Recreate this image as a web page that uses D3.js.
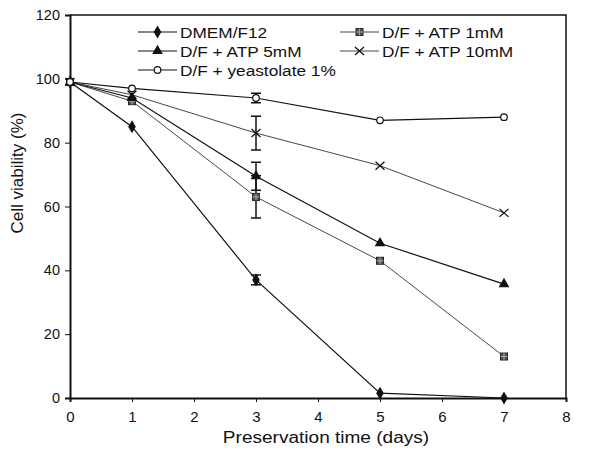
<!DOCTYPE html>
<html>
<head>
<meta charset="utf-8">
<script src="https://cdn.jsdelivr.net/npm/d3@7"></script>
<style>
  body { margin: 0; background: #fff; }
  svg text { font-family: "Liberation Sans", Arial, sans-serif; fill: #111; }
</style>
</head>
<body>
<script>
'use strict';

// preservation days on x axis
const days = [0, 1, 3, 5, 7];
const xTicks = [0, 1, 2, 3, 4, 5, 6, 7, 8];
const yTicks = [0, 20, 40, 60, 80, 100, 120];

// cell viability (%)
const dmem = [99, 85, 37, 1.5, 0];
const atp1 = [99, 93, 63, 43, 13];
const atp5 = [99, 94, 69.5, 48.5, 35.7];
const atp10 = [99, 95, 83, 72.8, 58];
const yeast = [99, 97, 94, 87, 88];

// error bars (only the day 3 ones are visible)
const errDay = 3;
const dmemErr = 1.5, atp1Err = 6.6, atp5Err = 4.4, atp10Err = 5.3, yeastErr = 1.5;

const seriesNames = ["DMEM/F12", "D/F + ATP 1mM", "D/F + ATP 5mM", "D/F + ATP 10mM", "D/F + yeastolate 1%"];

window.onload = function() {
  const svg = d3.select('body').append('svg')
    .attr('width', 589)
    .attr('height', 454);

  const margin = {top: 15, left: 70, right: 23, bottom: 56};
  const width = 589 - margin.left - margin.right,
        height = 454 - margin.top - margin.bottom;

  const x = d3.scaleLinear().domain([0, 8]).range([margin.left, margin.left + width]);
  const y = d3.scaleLinear().domain([0, 120]).range([margin.top + height, margin.top]);

  // frame top + right
  svg.append('path')
    .attr('d', `M${x(0)},${y(120)}H${x(8)}V${y(0)}`)
    .attr('fill', 'none').attr('stroke', '#111').attr('stroke-width', 1.5);

  // axes
  const xAxis = svg.append('g')
    .attr('transform', `translate(0,${y(0)})`)
    .call(d3.axisBottom(x).tickValues(xTicks).tickSize(4).tickPadding(9).tickFormat(d3.format('d')));
  const yAxis = svg.append('g')
    .attr('transform', `translate(${x(0)},0)`)
    .call(d3.axisLeft(y).tickValues(yTicks).tickSize(5).tickPadding(5).tickFormat(d3.format('d')));
  [xAxis, yAxis].forEach(function(g) {
    g.select('.domain').attr('stroke', '#111').attr('stroke-width', 2);
    g.selectAll('.tick line').attr('stroke', '#111');
    g.selectAll('text').attr('fill', '#111');
  });
  xAxis.selectAll('text').style('font-size', '15px');
  yAxis.selectAll('text').style('font-size', '14.5px');

  // axis titles (scan is a bit wide, so stretch horizontal text)
  svg.append('text')
    .attr('transform', `translate(${x(4) + 8},443)scale(1.19,1)`)
    .attr('text-anchor', 'middle')
    .style('font-size', '16px')
    .text('Preservation time (days)');
  svg.append('text')
    .attr('transform', `translate(23,173)rotate(-90)`)
    .attr('text-anchor', 'middle')
    .style('font-size', '17px')
    .text('Cell viability (%)');

  const series = [
    {name: seriesNames[0], vals: dmem, err: dmemErr, mark: 'diamond', stroke: '#111', sw: 1.2},
    {name: seriesNames[1], vals: atp1, err: atp1Err, mark: 'square', stroke: '#333', sw: 0.9},
    {name: seriesNames[2], vals: atp5, err: atp5Err, mark: 'triangle', stroke: '#111', sw: 1.2},
    {name: seriesNames[3], vals: atp10, err: atp10Err, mark: 'cross', stroke: '#333', sw: 0.9},
    {name: seriesNames[4], vals: yeast, err: yeastErr, mark: 'circle', stroke: '#111', sw: 1.2}
  ];

  function drawMarker(g, type, cx, cy) {
    if (type === 'diamond') {
      g.append('path').attr('d', d3.symbol(d3.symbolDiamond, 50)())
        .attr('transform', `translate(${cx},${cy})`).attr('fill', '#111');
    } else if (type === 'square') {
      g.append('rect').attr('x', cx - 3.5).attr('y', cy - 3.5).attr('width', 7).attr('height', 7)
        .attr('fill', '#555').attr('stroke', '#222').attr('stroke-width', 1);
      g.append('path').attr('d', `M${cx - 3.5},${cy}H${cx + 3.5}M${cx},${cy - 3.5}V${cy + 3.5}`)
        .attr('stroke', '#bbb').attr('stroke-width', 0.8);
    } else if (type === 'triangle') {
      g.append('path').attr('d', d3.symbol(d3.symbolTriangle, 50)())
        .attr('transform', `translate(${cx},${cy})`).attr('fill', '#111');
    } else if (type === 'cross') {
      g.append('path').attr('d', `M${cx - 4.5},${cy - 4}L${cx + 4.5},${cy + 4}M${cx - 4.5},${cy + 4}L${cx + 4.5},${cy - 4}`)
        .attr('stroke', '#111').attr('stroke-width', 1.3);
    } else if (type === 'circle') {
      g.append('circle').attr('cx', cx).attr('cy', cy).attr('r', 3.3)
        .attr('fill', '#fff').attr('stroke', '#111').attr('stroke-width', 1.2);
    }
  }

  const line = d3.line()
    .x(function(d, i) { return x(days[i]); })
    .y(function(d) { return y(d); });

  const plot = svg.append('g');
  series.forEach(function(s) {
    plot.append('path')
      .datum(s.vals)
      .attr('fill', 'none')
      .attr('stroke', s.stroke)
      .attr('stroke-width', s.sw)
      .attr('d', line);
  });

  // error bars at day 3
  series.forEach(function(s) {
    const i = days.indexOf(errDay);
    const v = s.vals[i];
    const cx = x(errDay);
    plot.append('path')
      .attr('d', `M${cx},${y(v + s.err)}V${y(v - s.err)}M${cx - 5},${y(v + s.err)}H${cx + 5}M${cx - 5},${y(v - s.err)}H${cx + 5}`)
      .attr('fill', 'none').attr('stroke', '#111').attr('stroke-width', 1.5);
  });

  series.forEach(function(s) {
    s.vals.forEach(function(v, i) {
      drawMarker(plot, s.mark, x(days[i]), y(v));
    });
  });

  // legend
  const legendPos = [
    {lx: 138, ly: 32}, {lx: 340, ly: 32},
    {lx: 138, ly: 51}, {lx: 340, ly: 51},
    {lx: 138, ly: 70}
  ];
  series.forEach(function(s, i) {
    const p = legendPos[i];
    const lg = svg.append('g');
    lg.append('line')
      .attr('x1', p.lx).attr('x2', p.lx + 39)
      .attr('y1', p.ly).attr('y2', p.ly)
      .attr('stroke', s.stroke).attr('stroke-width', s.sw);
    drawMarker(lg, s.mark, p.lx + 19.5, p.ly);
    lg.append('text')
      .attr('transform', `translate(${p.lx + 42},${p.ly + 5.5})scale(1.15,1)`)
      .style('font-size', '15px')
      .text(s.name);
  });
};
</script>
</body>
</html>
